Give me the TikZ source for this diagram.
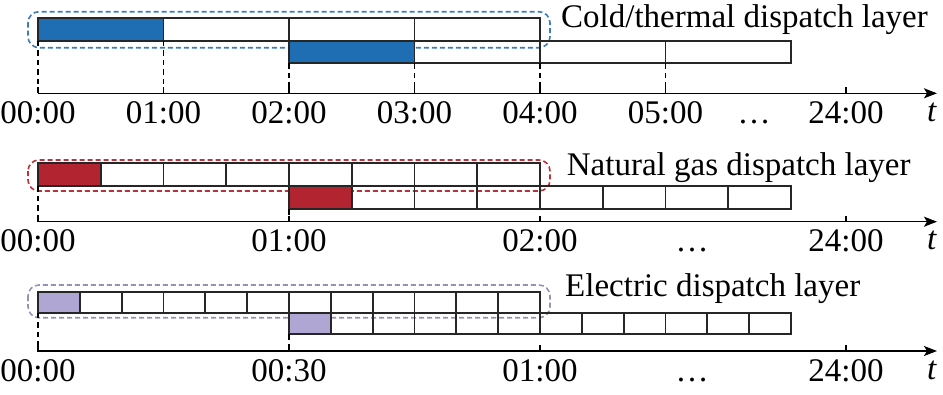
\documentclass[tikz,border=0pt]{standalone}
\usepackage{fontspec}
\setmainfont{Liberation Serif}
\usetikzlibrary{arrows.meta}
\definecolor{cblue}{RGB}{31,110,180}
\definecolor{cbluedash}{RGB}{60,125,185}
\definecolor{cred}{RGB}{178,37,48}
\definecolor{creddash}{RGB}{185,50,60}
\definecolor{cpurple}{RGB}{176,166,212}
\definecolor{cpurpledash}{RGB}{150,146,180}
\tikzset{
  cell/.style={draw=black!85, line width=1.7pt},
  grp/.style={dash pattern=on 5pt off 3pt, line width=1.6pt, rounded corners=11pt},
  axisline/.style={line width=1.5pt, -{Stealth[length=13pt,width=10pt,inset=3pt]}},
  guide/.style={dash pattern=on 5.5pt off 4pt, line width=1.4pt},
  tickmark/.style={line width=1.5pt},
  lbl/.style={anchor=base, font=\fontsize{33}{40}\selectfont, inner sep=0pt},
  layerlbl/.style={anchor=base west, font=\fontsize{33}{40}\selectfont, inner sep=0pt},
}
% #1 row1 top, #2 row1 bottom, #3 row2 bottom, #4 cell count, #5 cell width, #6 fill colour
\newcommand\dplrows[6]{%
  \fill[#6] (38,#1) rectangle ({38+#5},#2);
  \fill[#6] (289,#2) rectangle ({289+#5},#3);
  \foreach \i in {1,...,#4}{
    \draw[cell] ({38+(\i-1)*#5},#1) rectangle ({38+\i*#5},#2);
    \draw[cell] ({289+(\i-1)*#5},#2) rectangle ({289+\i*#5},#3);
  }
}
\begin{document}
\begin{tikzpicture}[x=1pt,y=-1pt]
\useasboundingbox (0,0) rectangle (943,394);

% ---------- Panel 1: cold/thermal ----------
\draw[grp, cbluedash] (28,11.7) rectangle (550,47.7);
\dplrows{18.3}{40.7}{63.3}{4}{125.5}{cblue}
\coordinate (a1s) at (38,93.3);
\coordinate (a1e) at (937,93.3);
\draw[axisline] (a1s) -- (a1e);
\foreach \x/\yt in {38/40.7,163.5/40.7,289/63.3,414.5/63.3,540/63.3,665.5/63.3}{
  \draw[guide] (\x,\yt) -- (\x,93.3);
  \draw[tickmark] (\x,87.3) -- (\x,93.3);
}
\draw[tickmark] (846,87.3) -- (846,93.3);
\foreach \x/\t in {38/00:00,163.5/01:00,289/02:00,414.5/03:00,540/04:00,665.5/05:00,846/24:00}{
  \node[lbl] at (\x,123) {\t};
}
\node[lbl] (dots1) at (754,123) {\dots};
\node[lbl] (t1) at (932,121) {\textit{t}};
\node[layerlbl] (L1) at (561,27) {Cold/thermal dispatch layer};

% ---------- Panel 2: natural gas ----------
\draw[grp, creddash] (28,160) rectangle (550,191);
\dplrows{163.3}{186}{209}{8}{62.75}{cred}
\coordinate (a2s) at (38,221.7);
\coordinate (a2e) at (937,221.7);
\draw[axisline] (a2s) -- (a2e);
\draw[guide] (38,186) -- (38,221.7);
\draw[guide] (289,209) -- (289,221.7);
\foreach \x in {38,289,540,846}{
  \draw[tickmark] (\x,215.7) -- (\x,221.7);
}
\foreach \x/\t in {38/00:00,289/01:00,540/02:00,846/24:00}{
  \node[lbl] at (\x,251.7) {\t};
}
\node[lbl] (dots2) at (692,251.7) {\dots};
\node[lbl] (t2) at (932,249.7) {\textit{t}};
\node[layerlbl] (L2) at (566.7,175) {Natural gas dispatch layer};

% ---------- Panel 3: electric ----------
\draw[grp, cpurpledash] (28,285) rectangle (550,317.7);
\dplrows{291.7}{312.7}{334.3}{12}{41.833}{cpurple}
\coordinate (a3s) at (38,351);
\coordinate (a3e) at (937,351);
\draw[axisline] (a3s) -- (a3e);
\draw[guide] (38,312.7) -- (38,351);
\draw[guide] (289,334.3) -- (289,351);
\foreach \x in {38,289,540,846}{
  \draw[tickmark] (\x,345) -- (\x,351);
}
\foreach \x/\t in {38/00:00,289/00:30,540/01:00,846/24:00}{
  \node[lbl] at (\x,381) {\t};
}
\node[lbl] (dots3) at (692,381) {\dots};
\node[lbl] (t3) at (932,379) {\textit{t}};
\node[layerlbl] (L3) at (565,296.7) {Electric dispatch layer};
\end{tikzpicture}
\end{document}
